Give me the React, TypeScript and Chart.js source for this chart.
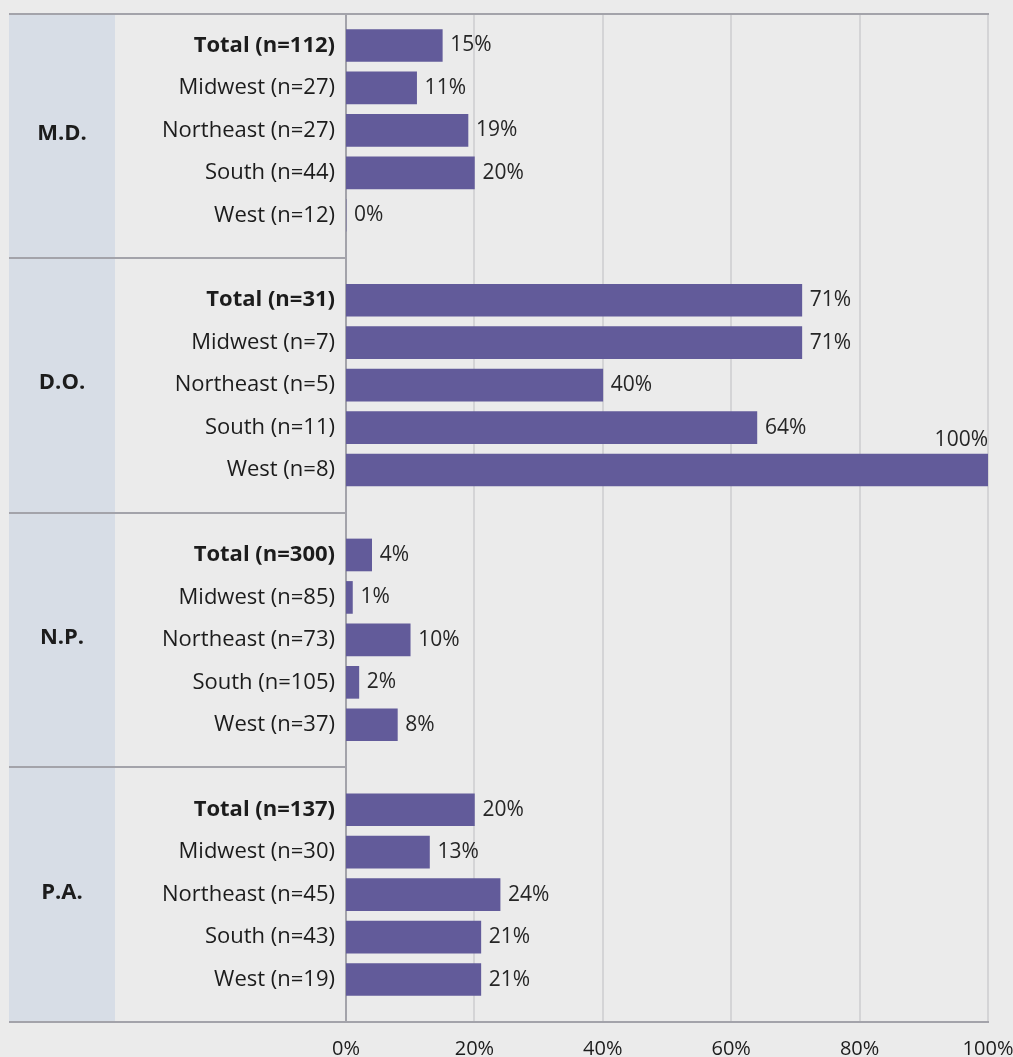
import React, { useEffect, useRef } from "react";
import { Chart, registerables } from "chart.js";

Chart.register(...registerables);

const groupNames = ["M.D.", "D.O.", "N.P.", "P.A."];
const mdLabels = ["Total (n=112)", "Midwest (n=27)", "Northeast (n=27)", "South (n=44)", "West (n=12)"];
const doLabels = ["Total (n=31)", "Midwest (n=7)", "Northeast (n=5)", "South (n=11)", "West (n=8)"];
const npLabels = ["Total (n=300)", "Midwest (n=85)", "Northeast (n=73)", "South (n=105)", "West (n=37)"];
const paLabels = ["Total (n=137)", "Midwest (n=30)", "Northeast (n=45)", "South (n=43)", "West (n=19)"];
const mdValues = [15, 11, 19, 20, 0];
const doValues = [71, 71, 40, 64, 100];
const npValues = [4, 1, 10, 2, 8];
const paValues = [20, 13, 24, 21, 21];
const xTicks = [0, 20, 40, 60, 80, 100];

const FONT = "'Open Sans', 'Noto Sans', sans-serif";
const BG = "#ebebeb";
const BAND = "#d7dde6";
const LINE = "#a3a3aa";
const GRID = "#d4d4d6";
const BAR = "#625b9a";
const TEXT = "#1c1c1c";

export default function App() {
  const ref = useRef<HTMLCanvasElement | null>(null);

  useEffect(() => {
    if (!ref.current) return;
    const groupLabels = [mdLabels, doLabels, npLabels, paLabels];
    const groupValues = [mdValues, doValues, npValues, paValues];
    const labels: string[] = [];
    const data: (number | null)[] = [];
    groupLabels.forEach((gl, gi) => {
      labels.push("");
      data.push(null);
      gl.forEach((l, i) => {
        labels.push(l);
        data.push(groupValues[gi][i]);
      });
    });
    labels.push("");
    data.push(null);

    const TOP = 14;
    const LEFT = 9;

    const decor = {
      id: "decor",
      beforeDraw(chart: any) {
        const { ctx, chartArea } = chart;
        const xs = chart.scales.x;
        const ys = chart.scales.y;
        const bottom = chartArea.bottom;
        const axisX = xs.getPixelForValue(0);
        const right = xs.getPixelForValue(100);
        ctx.save();
        ctx.fillStyle = BG;
        ctx.fillRect(0, 0, chart.width, chart.height);
        ctx.fillStyle = BAND;
        ctx.fillRect(LEFT, TOP, 106, bottom - TOP);
        ctx.strokeStyle = GRID;
        ctx.lineWidth = 2;
        xTicks.slice(1).forEach((v) => {
          const x = Math.round(xs.getPixelForValue(v));
          ctx.beginPath();
          ctx.moveTo(x, TOP);
          ctx.lineTo(x, bottom);
          ctx.stroke();
        });
        ctx.strokeStyle = LINE;
        ctx.beginPath();
        ctx.moveTo(LEFT, TOP);
        ctx.lineTo(right + 1, TOP);
        ctx.moveTo(LEFT, bottom);
        ctx.lineTo(right + 1, bottom);
        for (let g = 1; g < groupNames.length; g++) {
          const y = Math.round(ys.getPixelForValue(g * 6));
          ctx.moveTo(LEFT, y);
          ctx.lineTo(axisX, y);
        }
        ctx.stroke();
        ctx.beginPath();
        ctx.moveTo(axisX, TOP);
        ctx.lineTo(axisX, bottom);
        ctx.stroke();
        ctx.fillStyle = TEXT;
        ctx.font = `bold 22px ${FONT}`;
        ctx.textAlign = "center";
        ctx.textBaseline = "middle";
        groupNames.forEach((name, g) => {
          const y0 = Math.max(TOP, ys.getPixelForValue(g * 6));
          const y1 = ys.getPixelForValue(g * 6 + 6);
          ctx.fillText(name, LEFT + 53, (y0 + y1) / 2 - 2);
        });
        ctx.restore();
      },
      afterDatasetsDraw(chart: any) {
        const { ctx, chartArea } = chart;
        const meta = chart.getDatasetMeta(0);
        ctx.save();
        ctx.fillStyle = "#262626";
        ctx.font = `21px ${FONT}`;
        meta.data.forEach((el: any, i: number) => {
          const v = data[i];
          if (v === null || v === undefined) return;
          const txt = `${v}%`;
          const w = ctx.measureText(txt).width;
          if (el.x + 8 + w > chartArea.right + 20) {
            ctx.textAlign = "right";
            ctx.textBaseline = "bottom";
            ctx.fillText(txt, el.x, el.y - el.height / 2 - 4);
          } else {
            ctx.textAlign = "left";
            ctx.textBaseline = "middle";
            ctx.fillText(txt, el.x + 8, el.y);
          }
        });
        ctx.restore();
      },
    };

    const chart = new Chart(ref.current, {
      type: "bar",
      data: {
        labels,
        datasets: [
          {
            data,
            backgroundColor: BAR,
            borderWidth: 0,
            barThickness: 32,
          },
        ],
      },
      options: {
        indexAxis: "y",
        animation: false,
        responsive: false,
        layout: { padding: { top: 3, right: 25, left: 0, bottom: 0 } },
        plugins: { legend: { display: false }, tooltip: { enabled: false } },
        scales: {
          x: {
            type: "linear",
            min: 0,
            max: 100,
            afterBuildTicks: (scale: any) => {
              scale.ticks = xTicks.map((v) => ({ value: v }));
            },
            afterFit: (scale: any) => {
              scale.height = 35;
              scale.paddingLeft = 0;
              scale.paddingRight = 0;
            },
            grid: { display: false, drawTicks: false },
            border: { display: false },
            ticks: {
              padding: 15,
              color: TEXT,
              font: { family: FONT, size: 20 },
              callback: (v: any) => `${v}%`,
            },
          },
          y: {
            type: "category",
            offset: false,
            afterFit: (scale: any) => {
              scale.width = 346;
              scale.paddingTop = 0;
              scale.paddingBottom = 0;
            },
            grid: { display: false, drawTicks: false },
            border: { display: false },
            ticks: {
              autoSkip: false,
              padding: 11,
              color: TEXT,
              font: (ctx: any) => ({
                family: FONT,
                size: 22,
                weight: ctx.tick && String(ctx.tick.label).startsWith("Total") ? "bold" : "normal",
              }),
            },
          },
        },
      },
      plugins: [decor],
    } as any);

    return () => chart.destroy();
  }, []);

  return (
    <div style={{ position: "absolute", left: 0, top: 0, width: 1013, height: 1057 }}>
      <canvas ref={ref} width={1013} height={1057} style={{ display: "block" }} />
    </div>
  );
}
